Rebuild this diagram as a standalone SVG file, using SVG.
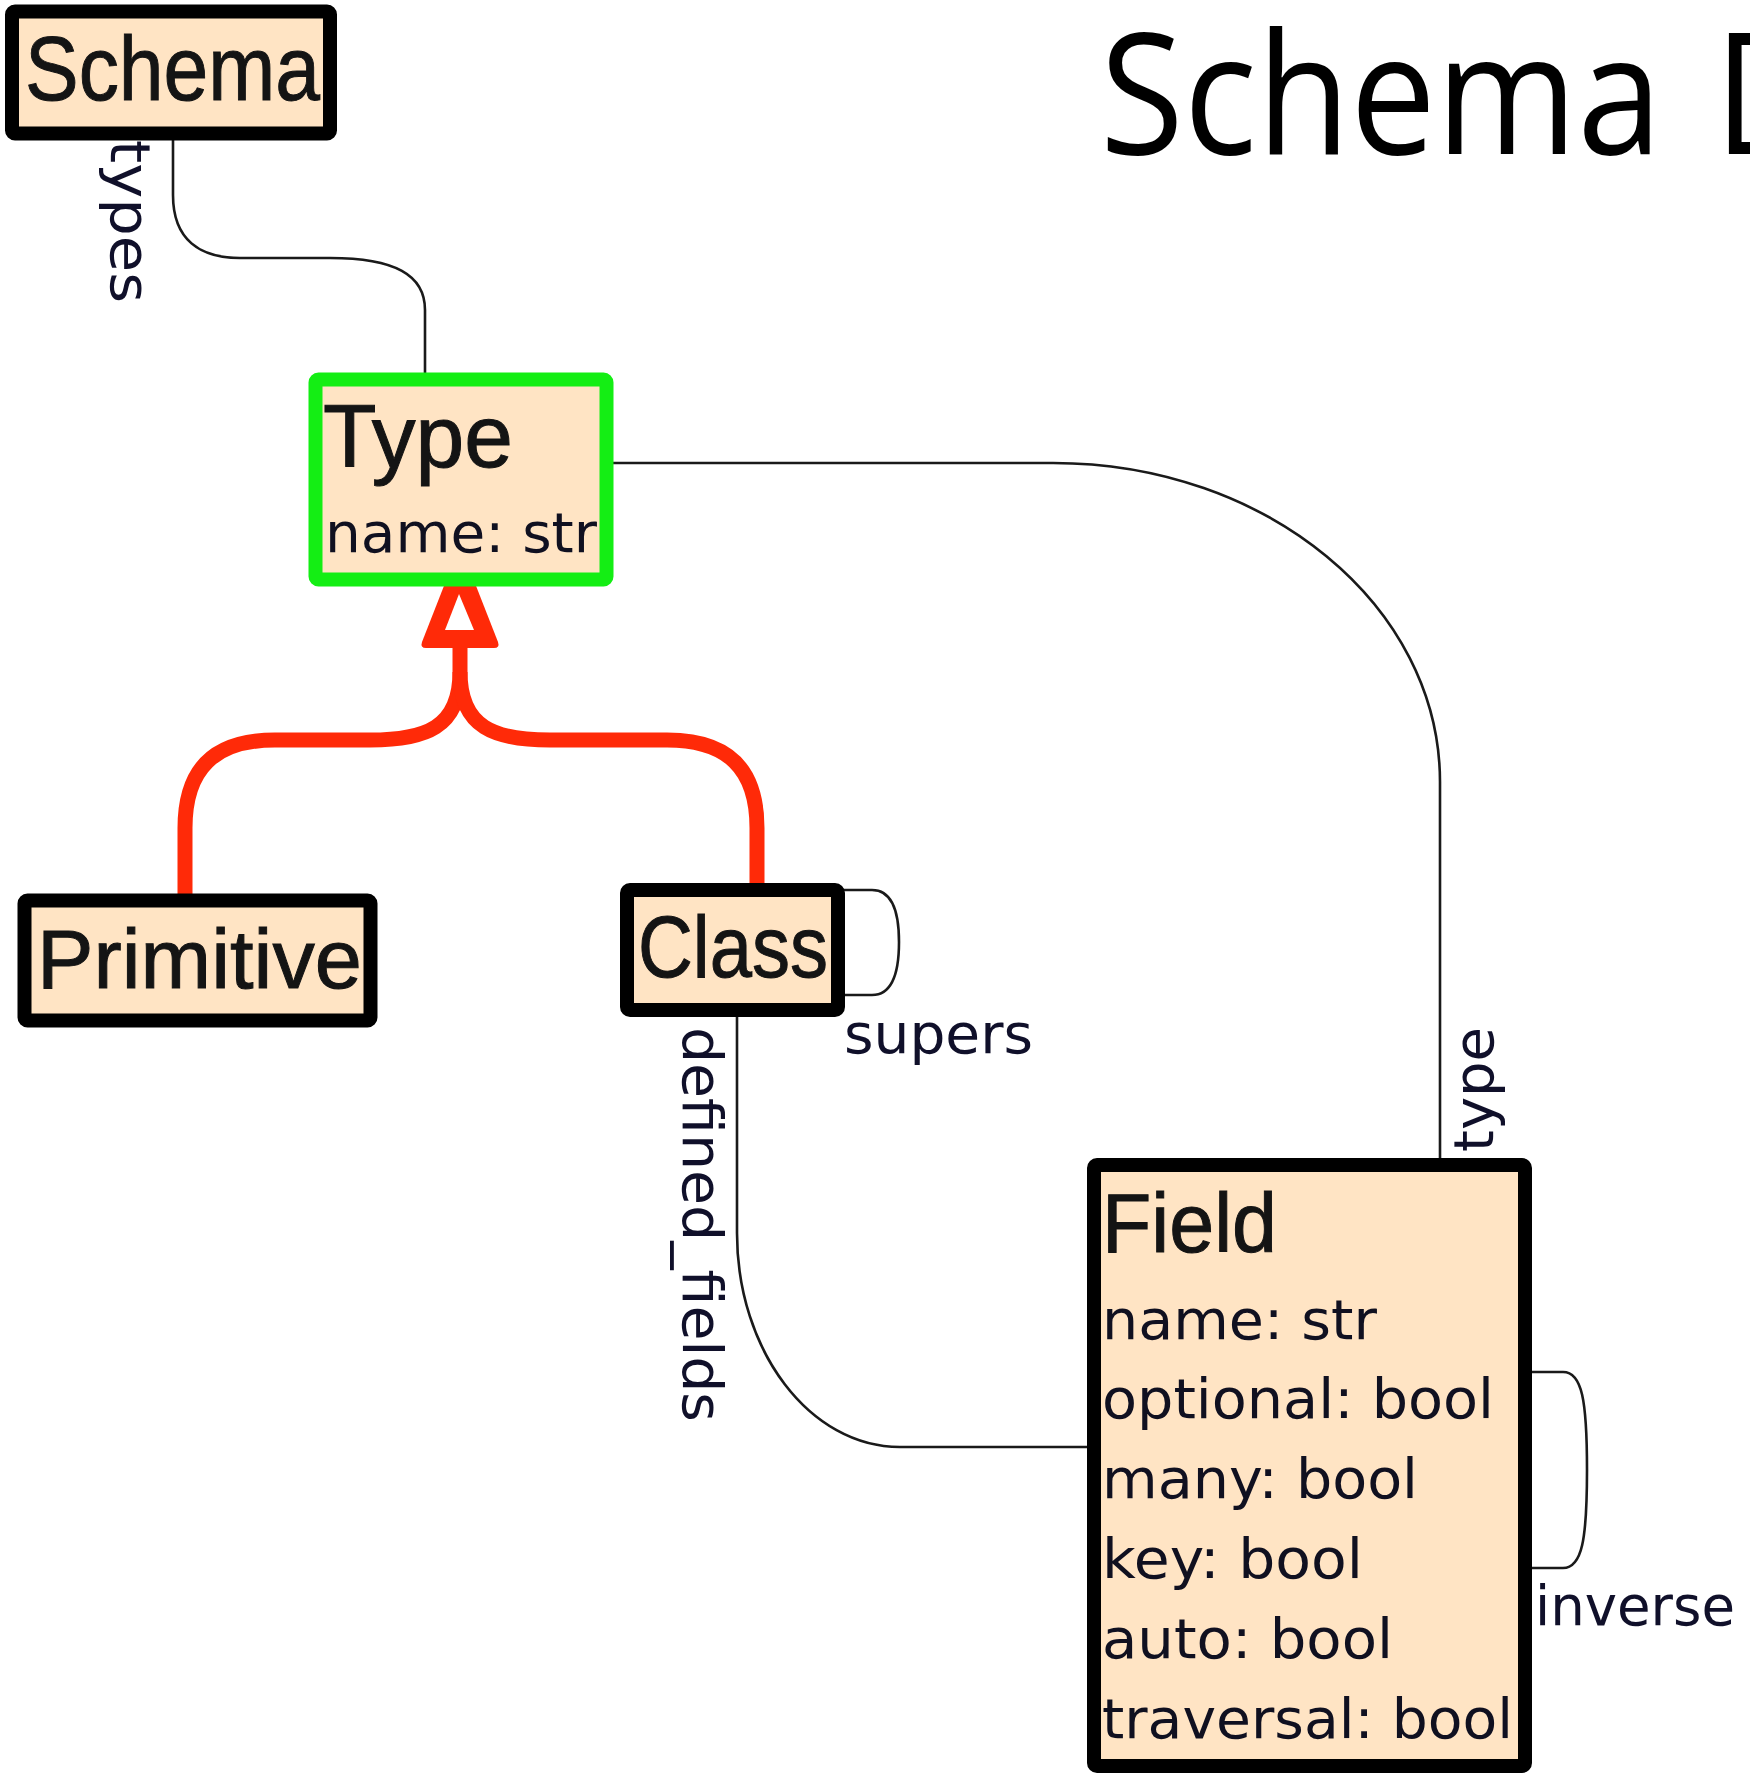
<svg xmlns="http://www.w3.org/2000/svg" width="1750" height="1776" viewBox="0 0 1750 1776">
  <style>
    .box { fill: #ffe4c4; stroke: #000; stroke-width: 14; stroke-linejoin: round; }
    .box.sel { stroke: #14ee14; }
    .title { font-family: "Liberation Sans", Arial, sans-serif; fill: #141414; stroke: #141414; stroke-width: 1; }
    .attr { font-family: "DejaVu Sans", Verdana, sans-serif; font-size: 56px; fill: #101020; }
    .lbl { font-family: "DejaVu Sans", Verdana, sans-serif; font-size: 55px; fill: #10102a; }
    .assoc { fill: none; stroke: #1a1a1a; stroke-width: 2.6; }
    .inherit { fill: none; stroke: #ff2a08; stroke-width: 15; stroke-linecap: butt; }
    .heading { font-family: "Open Sans", "DejaVu Sans", sans-serif; font-size: 169px; fill: #000; }
  </style>

  <!-- page heading, runs off the right edge -->
  <text class="heading" transform="translate(1100,154) scale(0.903,1)">Schema <tspan x="680">D</tspan></text>

  <g id="connectors">
    <!-- Schema.types -> Type -->
    <path class="assoc" d="M173 140 V195 C173 240 200 258 240 258 H330 C395 258 425 275 425 310 V374"/>
    <!-- Field.type -> Type -->
    <path class="assoc" d="M610 463 H1053 C1267 463 1440 606 1440 782 V1160"/>
    <!-- Class.defined_fields -> Field -->
    <path class="assoc" d="M737 1015 V1233 C737 1351 810 1447 900 1447 H1090"/>
    <!-- Class.supers self reference -->
    <path class="assoc" d="M843 890 H872 C893 890 899 915 899 942 C899 970 893 995 872 995 H843"/>
    <!-- Field.inverse self reference -->
    <path class="assoc" d="M1530 1372 H1563 C1582 1372 1587 1400 1587 1470 C1587 1540 1582 1568 1563 1568 H1530"/>

    <!-- generalisation: Primitive, Class -> Type -->
    <path class="inherit" d="M460 645 V672 C460 728 425 740 370 740 H275 C215 740 185 768 185 828 V895"/>
    <path class="inherit" d="M460 672 C460 728 495 740 550 740 H667 C727 740 757 768 757 828 V885"/>
    <path d="M460 545 L498 642 Q500 648 494 648 L426 648 Q420 648 422 642 Z" fill="#ff2a08"/>
    <path d="M459 594 L474 630 L445 630 Z" fill="#fff"/>

    <text class="lbl" transform="translate(111,140) rotate(90)" textLength="163" lengthAdjust="spacingAndGlyphs">types</text>
    <text class="lbl" transform="translate(1493,1152) rotate(-90)" textLength="125" lengthAdjust="spacingAndGlyphs">type</text>
    <text class="lbl" transform="translate(683,1027) rotate(90)" textLength="395" lengthAdjust="spacingAndGlyphs">defined_fields</text>
    <text class="lbl" x="844" y="1053" textLength="189" lengthAdjust="spacingAndGlyphs">supers</text>
    <text class="lbl" x="1535" y="1625" textLength="200" lengthAdjust="spacingAndGlyphs">inverse</text>
  </g>

  <g id="node-schema">
    <rect class="box" x="12" y="11.5" width="318" height="122" rx="3"/>
    <text class="title" x="25" y="100" font-size="91" textLength="295" lengthAdjust="spacingAndGlyphs">Schema</text>
  </g>

  <g id="node-type">
    <rect class="box sel" x="315.5" y="379.5" width="291" height="200" rx="3"/>
    <text class="title" x="323" y="467" font-size="89" textLength="190" lengthAdjust="spacingAndGlyphs">Type</text>
    <text class="attr" x="325" y="552" textLength="272" lengthAdjust="spacingAndGlyphs">name: str</text>
  </g>

  <g id="node-primitive">
    <rect class="box" x="24.5" y="900.5" width="346" height="120" rx="3"/>
    <text class="title" x="37" y="988" font-size="84" textLength="325" lengthAdjust="spacingAndGlyphs">Primitive</text>
  </g>

  <g id="node-class">
    <rect class="box" x="627" y="890" width="211" height="120" rx="3"/>
    <text class="title" x="638" y="977" font-size="87" textLength="190" lengthAdjust="spacingAndGlyphs">Class</text>
  </g>

  <g id="node-field">
    <rect class="box" x="1094" y="1165" width="431" height="601" rx="3"/>
    <text class="title" x="1102" y="1252" font-size="84" textLength="175" lengthAdjust="spacingAndGlyphs">Field</text>
    <text class="attr" x="1102" y="1339" textLength="275" lengthAdjust="spacingAndGlyphs">name: str</text>
    <text class="attr" x="1102" y="1418" textLength="392" lengthAdjust="spacingAndGlyphs">optional: bool</text>
    <text class="attr" x="1102" y="1498" textLength="316" lengthAdjust="spacingAndGlyphs">many: bool</text>
    <text class="attr" x="1102" y="1578" textLength="261" lengthAdjust="spacingAndGlyphs">key: bool</text>
    <text class="attr" x="1102" y="1658" textLength="291" lengthAdjust="spacingAndGlyphs">auto: bool</text>
    <text class="attr" x="1102" y="1738" textLength="411" lengthAdjust="spacingAndGlyphs">traversal: bool</text>
  </g>
</svg>
